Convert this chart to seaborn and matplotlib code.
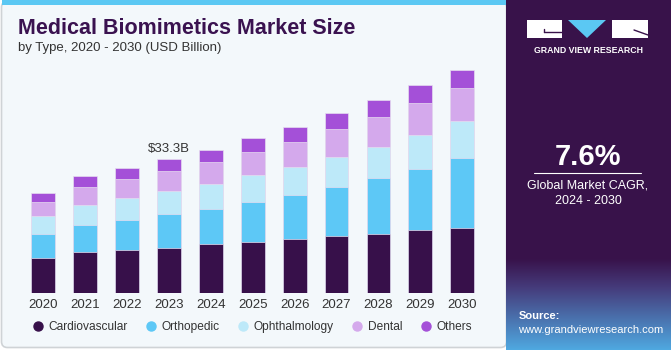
import numpy as np
import pandas as pd
import matplotlib.pyplot as plt
import seaborn as sns
from matplotlib.patches import FancyBboxPatch, Rectangle, Polygon
from matplotlib.lines import Line2D

# values (USD Billion)
years = [str(y) for y in range(2020, 2031)]
cardiovascular = [8.8, 10.3, 10.8, 11.3, 12.2, 12.8, 13.4, 14.2, 14.8, 15.7, 16.2]
orthopedic = [6.0, 6.7, 7.4, 8.5, 8.8, 10.0, 11.0, 12.3, 13.9, 15.3, 17.5]
ophthalmology = [4.3, 5.0, 5.5, 5.6, 6.1, 6.6, 6.9, 7.5, 7.7, 8.3, 9.1]
dental = [3.7, 4.5, 4.8, 5.0, 5.6, 5.7, 6.3, 6.9, 7.4, 8.0, 8.2]
others = [2.2, 2.7, 2.7, 2.9, 2.9, 3.4, 3.7, 3.8, 4.2, 4.4, 4.6]
segments = ['Cardiovascular', 'Orthopedic', 'Ophthalmology', 'Dental', 'Others']
colors = ['#37104A', '#5DC8F6', '#BDE9F9', '#D4A9EC', '#A450D8']
label_year = '2023'
label_text = '$33.3B'

df = pd.DataFrame({'year': years, 'Cardiovascular': cardiovascular, 'Orthopedic': orthopedic,
                   'Ophthalmology': ophthalmology, 'Dental': dental, 'Others': others})
cum = df[segments].cumsum(axis=1)

sns.set_style('white')
plt.rcParams['font.family'] = ['Liberation Sans', 'DejaVu Sans']

fig = plt.figure(figsize=(6.71, 3.5), dpi=100)
fig.patch.set_facecolor('white')

# background panel for the chart side
bg = fig.add_axes([0, 0, 1, 1])
bg.set_xlim(0, 671)
bg.set_ylim(350, 0)
bg.axis('off')
bg.add_patch(FancyBboxPatch((1.5, 1.5), 505, 346, boxstyle='round,pad=0,rounding_size=6',
                            facecolor='#F3F8FB', edgecolor='#CFD3D6', linewidth=1.2))
bg.add_patch(Rectangle((1.5, 0), 505, 4.5, facecolor='#5BC8F3', edgecolor='none'))

# main chart
ax = fig.add_axes([20 / 671, 56.7 / 350, 470 / 671, 233.3 / 350])
ax.set_facecolor('none')
for seg, c in reversed(list(zip(segments, colors))):
    sns.barplot(x=df['year'], y=cum[seg], color=c, saturation=1, width=0.57,
                edgecolor='#E6DDF0', linewidth=0.5, ax=ax)

ax.set_xlim(-0.549, 10.66)
ax.set_ylim(0, 58)
ax.set_xlabel('')
ax.set_ylabel('')
ax.set_yticks([])
ax.tick_params(axis='x', length=0, pad=4, labelsize=9.5, labelcolor='#333333')
sns.despine(ax=ax, left=True, bottom=True)

idx = years.index(label_year)
ax.text(idx, cum['Others'].iloc[idx] + 1.2, label_text, ha='center', va='bottom',
        fontsize=9.5, color='#333333')

# titles
fig.text(18 / 671, 1 - 29 / 350, 'Medical Biomimetics Market Size', fontsize=15.5,
         fontweight='heavy', color='#3A1250', va='center', ha='left')
fig.text(18 / 671, 1 - 48 / 350, 'by Type, 2020 - 2030 (USD Billion)', fontsize=9.5,
         color='#333333', va='center', ha='left')

# legend
handles = [Line2D([0], [0], marker='o', linestyle='', markersize=6.5, markerfacecolor=c,
                  markeredgecolor=c) for c in colors]
fig.legend(handles, segments, loc='center', bbox_to_anchor=(252 / 671, 1 - 327 / 350),
           ncol=5, frameon=False, fontsize=8.6, handletextpad=0.4, columnspacing=1.45,
           handlelength=1.0, labelcolor='#333333')

# right side panel
rp = fig.add_axes([506 / 671, 0, 165 / 671, 1])
rp.set_xlim(506, 671)
rp.set_ylim(350, 0)
rp.axis('off')
top = np.array([0x38, 0x12, 0x4A]) / 255
mid = np.array([0x45, 0x3A, 0x7A]) / 255
bot = np.array([0x4F, 0xA8, 0xE0]) / 255
rows = np.linspace(0, 1, 350)
grad = np.zeros((350, 1, 3))
for i, r in enumerate(rows):
    if r < 0.74:
        grad[i, 0] = top
    elif r < 0.82:
        t = (r - 0.74) / 0.08
        grad[i, 0] = top + (mid - top) * t
    else:
        t = (r - 0.82) / 0.18
        grad[i, 0] = mid + (bot - mid) * t
rp.imshow(grad, extent=[506, 671, 350, 0], aspect='auto', zorder=0)

# logo
rp.add_patch(Rectangle((527, 20), 35, 18, facecolor='white', edgecolor='none'))
rp.add_patch(Polygon([[568, 20], [606, 20], [587, 38]], closed=True, facecolor='#5BC8F3',
                     edgecolor='none'))
rp.add_patch(Rectangle((612, 20), 36, 18, facecolor='white', edgecolor='none'))
rp.plot([544, 562], [32, 32], color='#38124A', lw=1)
rp.plot([544, 544], [29, 32], color='#38124A', lw=1)
rp.plot([634, 648], [30, 35], color='#38124A', lw=1)
rp.text(588, 50.5, 'GRAND VIEW RESEARCH', color='white', fontsize=6.3, fontweight='bold',
        ha='center', va='center')

rp.text(588, 157, '7.6%', color='white', fontsize=21, fontweight='bold', ha='center',
        va='center')
rp.plot([534, 641], [173, 173], color='white', lw=0.8)
rp.text(588, 186, 'Global Market CAGR,', color='white', fontsize=9, ha='center', va='center')
rp.text(588, 201, '2024 - 2030', color='white', fontsize=9, ha='center', va='center')

rp.text(519, 316, 'Source:', color='white', fontsize=8, fontweight='bold', ha='left',
        va='center')
rp.text(518, 330, 'www.grandviewresearch.com', color='white', fontsize=8, ha='left',
        va='center')

fig.savefig('out.png', dpi=100)
